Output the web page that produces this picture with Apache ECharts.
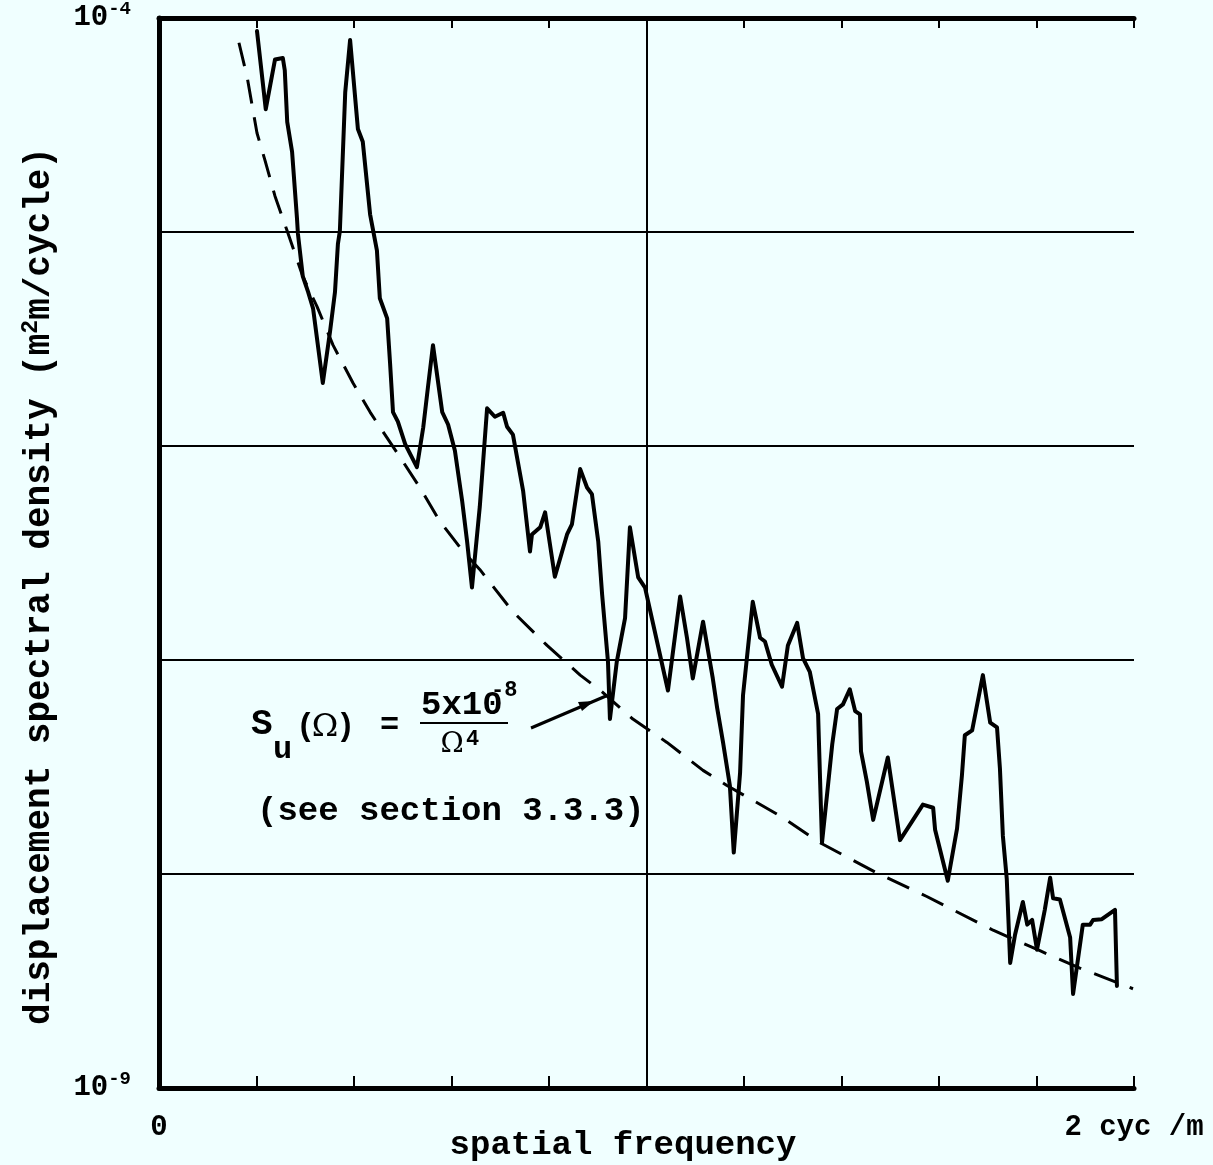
<!DOCTYPE html>
<html>
<head>
<meta charset="utf-8">
<script src="https://cdn.jsdelivr.net/npm/echarts@6/dist/echarts.min.js"></script>
<style>
html,body{margin:0;padding:0;background:#F0FFFF;}
#chart{width:1213px;height:1165px;}
</style>
</head>
<body>
<div id="chart"></div>
<script>
// measured spectrum (spatial frequency in cyc/m, PSD in m^2 m/cycle)
const freq = [
  0.201,0.219,0.238,0.254,0.258,0.263,0.273,0.283,0.285,0.295,
  0.306,0.316,0.336,0.351,0.361,0.367,0.371,0.382,0.392,0.408,
  0.418,0.433,0.447,0.453,0.468,0.474,0.480,0.490,0.505,0.529,
  0.542,0.552,0.562,0.581,0.593,0.607,0.622,0.632,0.642,0.658,
  0.673,0.689,0.706,0.714,0.726,0.747,0.761,0.765,0.782,0.792,
  0.812,0.837,0.847,0.864,0.878,0.888,0.901,0.909,0.921,0.925,
  0.939,0.956,0.966,0.983,0.997,1.028,1.044,1.069,1.083,1.095,
  1.116,1.136,1.145,1.157,1.171,1.179,1.192,1.198,1.218,1.233,
  1.243,1.257,1.278,1.290,1.309,1.321,1.335,1.352,1.356,1.360,
  1.371,1.381,1.391,1.403,1.417,1.428,1.438,1.440,1.452,1.465,
  1.495,1.520,1.567,1.588,1.592,1.618,1.637,1.647,1.653,1.668,
  1.690,1.705,1.719,1.725,1.731,1.739,1.746,1.756,1.772,1.781,
  1.791,1.801,1.817,1.828,1.834,1.848,1.869,1.875,1.895,1.910,
  1.916,1.934,1.961,1.965
];
const psd = [
  8.7e-5,3.75e-5,6.4e-5,6.5e-5,5.7e-5,3.27e-5,2.37e-5,1.16e-5,9.8e-6,6.2e-6,
  5.24e-6,4.4e-6,1.97e-6,3.45e-6,5.24e-6,8.8e-6,1.01e-5,4.5e-5,7.9e-5,3.03e-5,
  2.64e-5,1.21e-5,8.2e-6,4.9e-6,3.95e-6,2.43e-6,1.44e-6,1.30e-6,1.02e-6,7.96e-7,
  1.22e-6,1.91e-6,2.96e-6,1.44e-6,1.26e-6,9.5e-7,5.5e-7,3.58e-7,2.18e-7,5.2e-7,
  1.50e-6,1.37e-6,1.43e-6,1.23e-6,1.13e-6,6.15e-7,3.21e-7,3.86e-7,4.17e-7,4.9e-7,
  2.45e-7,3.86e-7,4.3e-7,7.8e-7,6.4e-7,5.96e-7,3.58e-7,2.02e-7,9.8e-8,5.3e-8,
  9.8e-8,1.57e-7,4.17e-7,2.43e-7,2.18e-7,1.05e-7,7.2e-8,1.98e-7,1.27e-7,8.2e-8,
  1.51e-7,8.2e-8,5.96e-8,4.12e-8,2.59e-8,1.26e-8,2.98e-8,6.85e-8,1.87e-7,1.27e-7,
  1.22e-7,9.5e-8,7.5e-8,1.17e-7,1.49e-7,1.02e-7,8.8e-8,5.6e-8,2.79e-8,1.40e-8,
  2.43e-8,4.04e-8,5.9e-8,6.2e-8,7.3e-8,5.77e-8,5.57e-8,3.74e-8,2.70e-8,1.79e-8,
  3.5e-8,1.44e-8,2.11e-8,2.04e-8,1.61e-8,9.3e-9,1.63e-8,2.88e-8,4.45e-8,4.69e-8,
  8.5e-8,5.1e-8,4.84e-8,3.11e-8,1.51e-8,9.5e-9,3.84e-9,5.2e-9,7.4e-9,5.8e-9,
  6.1e-9,4.43e-9,6.8e-9,9.6e-9,7.7e-9,7.6e-9,5.05e-9,2.75e-9,5.8e-9,5.8e-9,
  6.1e-9,6.15e-9,6.8e-9,3.0e-9
];
// reference curve S_u = 5e-8 / Omega^4
const refFreq = [
  0.164,0.181,0.201,0.217,0.238,0.263,0.295,0.324,0.357,0.398,
  0.433,0.459,0.494,0.535,0.576,0.624,0.658,0.726,0.796,0.864,
  0.909,0.972,1.042,1.116,1.165,1.274,1.356,1.473,1.575,1.711,
  1.807,1.889,1.998
];
const refPsd = [
  7.66e-5,5.27e-5,2.9e-5,2.18e-5,1.47e-5,1.01e-5,6.2e-6,4.49e-6,2.96e-6,1.97e-6,
  1.44e-6,1.17e-6,8.9e-7,6.4e-7,4.45e-7,3.21e-7,2.65e-7,1.68e-7,1.17e-7,8.5e-8,
  7.1e-8,5.3e-8,4.12e-8,3.05e-8,2.59e-8,1.87e-8,1.40e-8,1.01e-8,7.85e-9,5.46e-9,
  4.38e-9,3.63e-9,2.91e-9
];
const xTickLabels = {0: '0', 2: '2 cyc /m'};
const yTickLabels = {'-4': '-4', '-9': '-9'};
const xMin = 0, xMax = 2, xStep = 0.2;
const yMin = 1e-9, yMax = 1e-4;

const FONT = '"Liberation Mono", "DejaVu Sans Mono", monospace';

const chart = echarts.init(document.getElementById('chart'), null, {renderer: 'canvas'});

const solidData = freq.map((f, i) => [f, psd[i]]);
const refData = refFreq.map((f, i) => [f, refPsd[i]]);

const option = {
  backgroundColor: '#F0FFFF',
  animation: false,
  grid: {left: 159, right: 79, top: 16, bottom: 77, containLabel: false},
  xAxis: [{
    type: 'value', min: xMin, max: xMax, interval: xStep, position: 'bottom',
    axisLine: {show: true, lineStyle: {color: '#000', width: 5}},
    axisTick: {show: true, inside: true, length: 12, lineStyle: {color: '#000', width: 2}},
    splitLine: {show: false},
    axisLabel: {
      show: true, margin: 25, color: '#000', fontFamily: FONT, fontWeight: 'bold', fontSize: 29,
      formatter: function (v) {
        for (const k in xTickLabels) { if (Math.abs(v - Number(k)) < 1e-9) return xTickLabels[k]; }
        return '';
      }
    }
  }, {
    type: 'value', min: xMin, max: xMax, interval: xStep, position: 'top',
    axisLine: {show: true, lineStyle: {color: '#000', width: 5}},
    axisTick: {show: true, inside: true, length: 10, lineStyle: {color: '#000', width: 2}},
    splitLine: {show: false}, axisLabel: {show: false}
  }],
  yAxis: [{
    type: 'log', logBase: 10, min: yMin, max: yMax, position: 'left',
    axisLine: {show: true, lineStyle: {color: '#000', width: 5}},
    axisTick: {show: false},
    splitLine: {show: true, lineStyle: {color: '#000', width: 2}},
    axisLabel: {
      show: true, margin: 28, color: '#000', fontFamily: FONT, fontWeight: 'bold',
      formatter: function (v) {
        const e = String(Math.round(Math.log10(v)));
        if (yTickLabels[e]) return '{b|10}{s|' + yTickLabels[e] + '}';
        return '';
      },
      rich: {
        b: {fontFamily: FONT, fontWeight: 'bold', fontSize: 29, lineHeight: 36, color: '#000'},
        s: {fontFamily: FONT, fontWeight: 'bold', fontSize: 19, lineHeight: 19, verticalAlign: 'top', color: '#000'}
      }
    }
  }, {
    type: 'log', logBase: 10, min: yMin, max: yMax, position: 'right',
    axisLine: {show: true, lineStyle: {color: '#000', width: 4}},
    axisTick: {show: false}, splitLine: {show: false}, axisLabel: {show: false}
  }],
  series: [{
    name: 'reference',
    type: 'line', xAxisIndex: 0, yAxisIndex: 0,
    data: refData, showSymbol: false, smooth: false, silent: true,
    lineStyle: {color: '#000', width: 3, type: [24, 14]},
    markLine: {
      silent: true, symbol: ['none', 'none'], label: {show: false},
      lineStyle: {color: '#000', width: 2, type: 'solid'},
      data: [{xAxis: 1}]
    },
    z: 3
  }, {
    name: 'measured',
    type: 'line', xAxisIndex: 0, yAxisIndex: 0,
    data: solidData, showSymbol: false, smooth: false, silent: true,
    lineStyle: {color: '#000', width: 4, join: 'round', cap: 'round'},
    z: 4
  }],
  graphic: [
    {
      type: 'text', x: 40, y: 586, rotation: Math.PI / 2, silent: true,
      style: {
        text: '{a|displacement spectral density (m}{s|2}{a|m/cycle)}',
        align: 'center', verticalAlign: 'middle', fill: '#000',
        rich: {
          a: {fontFamily: FONT, fontWeight: 'bold', fontSize: 36, lineHeight: 40, fill: '#000'},
          s: {fontFamily: FONT, fontWeight: 'bold', fontSize: 23, lineHeight: 23, verticalAlign: 'top', fill: '#000'}
        }
      }
    },
    {
      type: 'text', x: 623, y: 1145, silent: true,
      style: {text: 'spatial frequency', font: 'bold 34px ' + FONT, fill: '#000', align: 'center', verticalAlign: 'middle'}
    },
    {type: 'text', x: 251, y: 725, silent: true,
      style: {text: 'S', font: 'bold 36px ' + FONT, fill: '#000', align: 'left', verticalAlign: 'middle'}},
    {type: 'text', x: 273, y: 750, silent: true,
      style: {text: 'u', font: 'bold 32px ' + FONT, fill: '#000', align: 'left', verticalAlign: 'middle'}},
    {type: 'text', x: 296, y: 727, silent: true,
      style: {text: '(', font: 'bold 32px ' + FONT, fill: '#000', align: 'left', verticalAlign: 'middle'}},
    {type: 'text', x: 325, y: 728, silent: true,
      style: {text: 'Ω', font: '32px "DejaVu Serif", serif', fill: '#000', align: 'center', verticalAlign: 'middle'}},
    {type: 'text', x: 336, y: 727, silent: true,
      style: {text: ')', font: 'bold 32px ' + FONT, fill: '#000', align: 'left', verticalAlign: 'middle'}},
    {type: 'text', x: 380, y: 726, silent: true,
      style: {text: '=', font: 'bold 32px ' + FONT, fill: '#000', align: 'left', verticalAlign: 'middle'}},
    {type: 'text', x: 421, y: 705, silent: true,
      style: {text: '5x10', font: 'bold 34px ' + FONT, fill: '#000', align: 'left', verticalAlign: 'middle'}},
    {type: 'text', x: 491, y: 690, silent: true,
      style: {text: '-8', font: 'bold 22px ' + FONT, fill: '#000', align: 'left', verticalAlign: 'middle'}},
    {type: 'line', silent: true, shape: {x1: 420, y1: 723, x2: 508, y2: 723},
      style: {stroke: '#000', lineWidth: 2}},
    {type: 'text', x: 452, y: 745, silent: true,
      style: {text: 'Ω', font: '28px "DejaVu Serif", serif', fill: '#000', align: 'center', verticalAlign: 'middle'}},
    {type: 'text', x: 466, y: 739, silent: true,
      style: {text: '4', font: 'bold 22px ' + FONT, fill: '#000', align: 'left', verticalAlign: 'middle'}},
    {type: 'line', silent: true, shape: {x1: 531, y1: 728, x2: 606, y2: 696},
      style: {stroke: '#000', lineWidth: 3}},
    {type: 'polygon', silent: true, shape: {points: [[594, 701], [578, 702], [582, 711]]},
      style: {fill: '#000'}},
    {type: 'text', x: 257, y: 811, silent: true,
      style: {text: '(see section 3.3.3)', font: 'bold 34px ' + FONT, fill: '#000', align: 'left', verticalAlign: 'middle'}}
  ]
};
chart.setOption(option);
</script>
</body>
</html>
